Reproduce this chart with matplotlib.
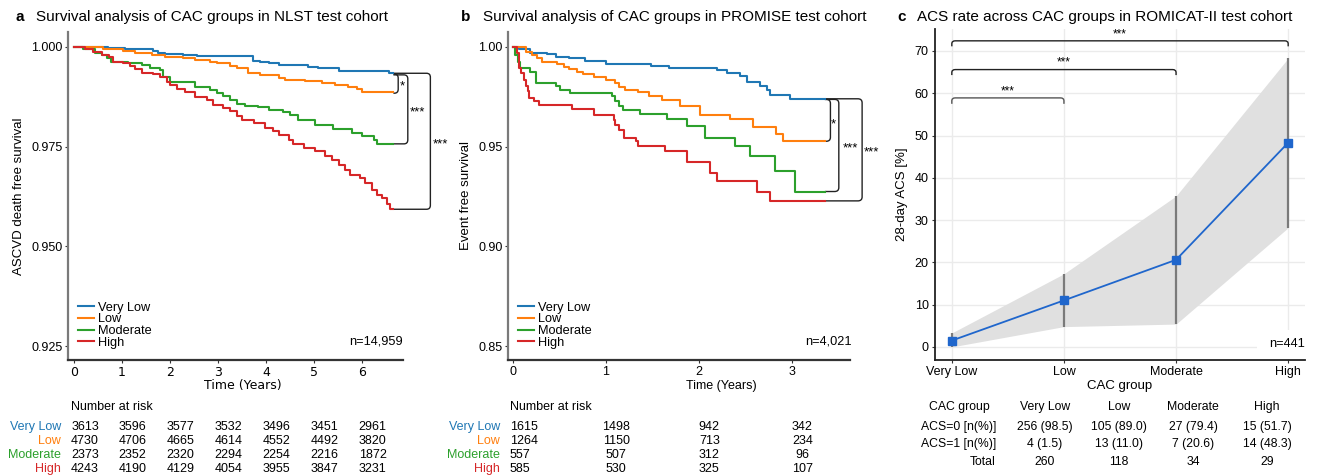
import numpy as np
import matplotlib
matplotlib.use('Agg')
import matplotlib.pyplot as plt
from matplotlib.path import Path
from matplotlib.patches import PathPatch, Rectangle
from matplotlib.transforms import blended_transform_factory

plt.rcParams['font.family'] = ['Liberation Sans', 'DejaVu Sans']

groups = ['Very Low', 'Low', 'Moderate', 'High']
colors = ['#1f77b4', '#ff7f0e', '#2ca02c', '#d62728']

# NLST: step times (years) and survival after each step
nlst_end = 6.65
nlst_t = {
    'Very Low': [0, 0.71, 1.06, 1.65, 1.75, 1.9, 2.27, 2.56, 3.73, 3.875, 4.05, 4.26,
                 4.88, 5.09, 5.51, 6.55],
    'Low': [0, 0.6, 1.02, 1.27, 1.62, 1.9, 2.27, 2.52, 2.83, 2.97, 3.25, 3.39, 3.63,
            3.875, 4.26, 4.40, 4.81, 5.16, 5.44, 5.71, 5.89, 5.99],
    'Moderate': [0, 0.19, 0.44, 0.58, 0.68, 0.78, 1.13, 1.41, 1.58, 1.79, 1.86, 2.0,
                 2.52, 2.83, 2.97, 3.11, 3.25, 3.39, 3.56, 3.84, 4.05, 4.36, 4.5, 4.67,
                 5.02, 5.40, 5.78, 5.99, 6.24, 6.31],
    'High': [0, 0.23, 0.40, 0.58, 0.72, 0.82, 1.03, 1.17, 1.27, 1.41, 1.65, 1.79, 1.93,
             2.0, 2.14, 2.31, 2.52, 2.76, 2.90, 3.11, 3.25, 3.39, 3.49, 3.74, 3.98,
             4.15, 4.26, 4.47, 4.57, 4.78, 5.02, 5.23, 5.37, 5.51, 5.65, 5.75, 5.96,
             6.06, 6.20, 6.31, 6.41, 6.51, 6.58],
}
nlst_s = {
    'Very Low': [1.0, 0.99975, 0.99942, 0.999, 0.99858, 0.99825, 0.998, 0.99775, 0.99658,
                 0.99633, 0.99592, 0.9955, 0.99508, 0.99467, 0.994, 0.99342],
    'Low': [1.0, 0.99942, 0.99908, 0.99858, 0.998, 0.99758, 0.99717, 0.99675, 0.99633,
            0.99592, 0.99525, 0.99467, 0.99342, 0.993, 0.99217, 0.99175, 0.9915, 0.99092,
            0.9905, 0.99008, 0.98942, 0.98867],
    'Moderate': [1.0, 0.99942, 0.99858, 0.998, 0.99717, 0.99633, 0.99592, 0.9955,
                 0.99483, 0.99425, 0.99258, 0.99133, 0.98992, 0.98925, 0.98842, 0.98758,
                 0.98658, 0.98575, 0.9853, 0.98492, 0.98425, 0.98358, 0.983, 0.98175,
                 0.9805, 0.97942, 0.97842, 0.97775, 0.97675, 0.97575],
    'High': [1.0, 0.9995, 0.99883, 0.998, 0.99742, 0.99633, 0.99592, 0.99525, 0.99442,
             0.99358, 0.99317, 0.99242, 0.99133, 0.9905, 0.98942, 0.98858, 0.98742,
             0.98675, 0.9855, 0.98467, 0.98383, 0.98258, 0.98175, 0.98092, 0.97967,
             0.97883, 0.978, 0.97675, 0.97575, 0.97467, 0.97383, 0.97275, 0.97175,
             0.9705, 0.96925, 0.96783, 0.96717, 0.96592, 0.96425, 0.963, 0.96217,
             0.9605, 0.95935],
}
nlst_risk_times = [0, 1, 2, 3, 4, 5, 6]
nlst_risk = {
    'Very Low': [3613, 3596, 3577, 3532, 3496, 3451, 2961],
    'Low': [4730, 4706, 4665, 4614, 4552, 4492, 3820],
    'Moderate': [2373, 2352, 2320, 2294, 2254, 2216, 1872],
    'High': [4243, 4190, 4129, 4054, 3955, 3847, 3231],
}

# PROMISE
prom_end = 3.35
prom_t = {
    'Very Low': [0, 0.07, 0.19, 0.37, 0.46, 0.60, 0.78, 1.0, 1.48, 1.68, 2.19, 2.30,
                 2.44, 2.51, 2.65, 2.725, 2.76, 2.975],
    'Low': [0, 0.14, 0.21, 0.26, 0.32, 0.48, 0.55, 0.60, 0.69, 0.75, 0.87, 1.0, 1.10,
            1.14, 1.21, 1.35, 1.46, 1.60, 1.80, 2.01, 2.33, 2.58, 2.83, 2.90],
    'Moderate': [0, 0.03, 0.06, 0.08, 0.19, 0.25, 0.46, 0.51, 0.62, 1.07, 1.10, 1.14,
                 1.18, 1.37, 1.66, 1.87, 2.06, 2.39, 2.55, 2.81, 3.03],
    'High': [0, 0.05, 0.07, 0.09, 0.12, 0.14, 0.16, 0.17, 0.23, 0.28, 0.64, 0.87, 1.09,
             1.10, 1.14, 1.19, 1.32, 1.35, 1.64, 1.87, 2.12, 2.19, 2.62, 2.76],
}
prom_s = {
    'Very Low': [1.0, 0.99883, 0.99717, 0.9965, 0.99517, 0.99433, 0.99317, 0.9915,
                 0.9905, 0.98933, 0.9883, 0.9869, 0.9852, 0.9824, 0.9802, 0.9782, 0.976,
                 0.9737],
    'Low': [1.0, 0.99767, 0.996, 0.99433, 0.99267, 0.9915, 0.99017, 0.98883, 0.98767,
            0.9865, 0.98517, 0.9835, 0.98183, 0.97967, 0.9785, 0.97717, 0.9755, 0.9735,
            0.9706, 0.9659, 0.9639, 0.9597, 0.9564, 0.9527],
    'Moderate': [1.0, 0.9958, 0.9925, 0.98933, 0.98733, 0.98217, 0.9805, 0.9785,
                 0.97683, 0.97517, 0.97267, 0.9705, 0.9685, 0.9665, 0.96383, 0.9606,
                 0.9544, 0.9502, 0.9455, 0.9379, 0.9275],
    'High': [1.0, 0.99683, 0.98933, 0.98683, 0.9835, 0.98017, 0.97767, 0.97433, 0.97267,
             0.971, 0.96883, 0.966, 0.9635, 0.961, 0.9585, 0.95433, 0.95267, 0.95017,
             0.94767, 0.9421, 0.9366, 0.9329, 0.9275, 0.9228],
}
prom_risk_times = [0, 1, 2, 3]
prom_risk = {
    'Very Low': [1615, 1498, 942, 342],
    'Low': [1264, 1150, 713, 234],
    'Moderate': [557, 507, 312, 96],
    'High': [585, 530, 325, 107],
}

# ROMICAT-II
acs_rate = [1.5, 11.0, 20.6, 48.3]
acs_lo = [0.0, 4.8, 5.4, 28.2]
acs_hi = [3.3, 17.3, 35.7, 68.3]
tab_rows = ['ACS=0 [n(%)]', 'ACS=1 [n(%)]', 'Total']
tab_vals = [['256 (98.5)', '105 (89.0)', '27 (79.4)', '15 (51.7)'],
            ['4 (1.5)', '13 (11.0)', '7 (20.6)', '14 (48.3)'],
            ['260', '118', '34', '29']]

W, H = 1317, 476
fig = plt.figure(figsize=(W / 100, H / 100), dpi=100)


def fx(px):
    return px / W


def fy(py):
    return 1 - py / H


def box(l, t, r, b):
    return [fx(l), fy(b), fx(r) - fx(l), fy(t) - fy(b)]


def rounded(ax, pts, rx, ry, **kw):
    verts = [pts[0]]
    codes = [Path.MOVETO]
    for i in range(1, len(pts) - 1):
        (xp, yp), (xc, yc), (xn, yn) = pts[i - 1], pts[i], pts[i + 1]
        a = (xc - np.sign(xc - xp) * rx, yc - np.sign(yc - yp) * ry)
        b = (xc + np.sign(xn - xc) * rx, yc + np.sign(yn - yc) * ry)
        verts += [a, (xc, yc), b]
        codes += [Path.LINETO, Path.CURVE3, Path.CURVE3]
    verts.append(pts[-1])
    codes.append(Path.LINETO)
    ax.add_patch(PathPatch(Path(verts, codes), fill=False, clip_on=False, **kw))


def km_panel(ax, t, s, end, xlim, ylim, yticks, yfmt):
    for g, c in zip(groups, colors):
        ax.step(t[g] + [end], s[g] + [s[g][-1]], where='post', color=c, lw=1.5,
                label=g)
    ax.set_xlim(*xlim)
    ax.set_ylim(*ylim)
    ax.set_yticks(yticks)
    ax.set_yticklabels([yfmt % v for v in yticks])
    for sp in ['top', 'right']:
        ax.spines[sp].set_visible(False)
    ax.spines['left'].set_color('#7a7a7a')
    ax.spines['bottom'].set_color('#333333')
    ax.spines['left'].set_linewidth(1.6)
    ax.spines['bottom'].set_linewidth(1.6)
    ax.tick_params(labelsize=9, length=2.5, pad=1.5, color='#333333')
    ax.legend(loc='lower left', bbox_to_anchor=(0.01, 0.015), frameon=False,
              fontsize=9.2, handlelength=1.3, handletextpad=0.3, labelspacing=-0.03,
              borderpad=0)


def risk_table(ax, times, risk, off0, off, lab_px, head_px):
    tr = blended_transform_factory(ax.transData, fig.transFigure)
    fig.text(fx(head_px), fy(407), 'Number at risk', fontsize=9, va='center')
    for k, (g, c) in enumerate(zip(groups, colors)):
        y = fy(427 + 14 * k)
        fig.text(fx(lab_px), y, g, color=c, fontsize=9, ha='right', va='center')
        for j, (tt, v) in enumerate(zip(times, risk[g])):
            if j == 0:
                ax.text(tt + off0, y, str(v), transform=tr, fontsize=9, ha='left',
                        va='center')
            else:
                ax.text(tt + off, y, str(v), transform=tr, fontsize=9, ha='center',
                        va='center')


# ---- panel a
axa = fig.add_axes(box(68, 32, 403, 360))
km_panel(axa, nlst_t, nlst_s, nlst_end, (-0.125, 6.85), (0.9215, 1.00375),
         [0.925, 0.950, 0.975, 1.000], '%.3f')
axa.set_xticks([0, 1, 2, 3, 4, 5, 6])
axa.set_xticklabels([str(v) for v in [0, 1, 2, 3, 4, 5, 6]], family='DejaVu Sans')
axa.set_ylabel('ASCVD death free survival', fontsize=9.5)
axa.yaxis.set_label_coords(-0.128, 0.5)
fig.text(fx(243), fy(386), 'Time (Years)', family='DejaVu Sans', fontsize=9,
         ha='center', va='center')
axa.text(1.0, 0.055, 'n=14,959', transform=axa.transAxes, ha='right', va='center',
         fontsize=9.2)
rxa, rya = 0.08, 0.001
e_a = nlst_end
rounded(axa, [(e_a, 0.9932), (6.75, 0.9932), (6.75, 0.9884), (e_a, 0.9884)], rxa, rya,
        lw=1, ec='#222222')
rounded(axa, [(e_a, 0.9930), (6.95, 0.9930), (6.95, 0.9757), (e_a, 0.9757)], rxa, rya,
        lw=1, ec='#222222')
rounded(axa, [(e_a, 0.9934), (7.42, 0.9934), (7.42, 0.9593), (e_a, 0.9593)], rxa, rya,
        lw=1, ec='#222222')
for xs, ys, st in [(6.84, 0.9902, '*'), (7.16, 0.9835, '***'), (7.62, 0.9755, '***')]:
    axa.text(xs, ys, st, ha='center', va='center', fontsize=9.5, clip_on=False)
risk_table(axa, nlst_risk_times, nlst_risk, -0.06, 0.22, 61, 71)
fig.text(fx(15), fy(17), 'a', fontsize=11, fontweight='bold', va='center')
fig.text(fx(36), fy(17), 'Survival analysis of CAC groups in NLST test cohort',
         fontsize=11, va='center')

# ---- panel b
axb = fig.add_axes(box(508, 32, 850, 360))
km_panel(axb, prom_t, prom_s, prom_end, (-0.05, 3.62), (0.843, 1.0075),
         [0.85, 0.90, 0.95, 1.00], '%.2f')
axb.set_xticks([0, 1, 2, 3])
axb.set_ylabel('Event free survival', fontsize=9.5)
axb.yaxis.set_label_coords(-0.106, 0.5)
fig.text(fx(721), fy(386), 'Time (Years)', fontsize=9, ha='center', va='center')
axb.text(1.005, 0.055, 'n=4,021', transform=axb.transAxes, ha='right', va='center',
         fontsize=9.2)
rxb, ryb = 0.045, 0.002
e_b = prom_end
rounded(axb, [(e_b, 0.9737), (3.41, 0.9737), (3.41, 0.9527), (e_b, 0.9527)], rxb, ryb,
        lw=1, ec='#222222')
rounded(axb, [(e_b, 0.9737), (3.50, 0.9737), (3.50, 0.9275), (e_b, 0.9275)], rxb, ryb,
        lw=1, ec='#222222')
rounded(axb, [(e_b, 0.9740), (3.75, 0.9740), (3.75, 0.9228), (e_b, 0.9228)], rxb, ryb,
        lw=1, ec='#222222')
for xs, ys, st in [(3.445, 0.9612, '*'), (3.62, 0.9492, '***'), (3.845, 0.947, '***')]:
    axb.text(xs, ys, st, ha='center', va='center', fontsize=9.5, clip_on=False)
risk_table(axb, prom_risk_times, prom_risk, -0.03, 0.11, 500, 510)
fig.text(fx(461), fy(17), 'b', fontsize=11, fontweight='bold', va='center')
fig.text(fx(483), fy(17), 'Survival analysis of CAC groups in PROMISE test cohort',
         fontsize=11, va='center')

# ---- panel c
axc = fig.add_axes(box(935, 29, 1305, 360))
xc = np.arange(len(groups))
axc.fill_between(xc, acs_lo, acs_hi, color='#e0e0e0', lw=0, zorder=1)
axc.vlines(xc, acs_lo, acs_hi, color='#7a7a7a', lw=1.6, zorder=2)
axc.plot(xc, acs_rate, color='#1f66cc', lw=1.3, marker='s', ms=6, zorder=3)
axc.set_xlim(-0.15, 3.15)
axc.set_ylim(-3.1, 75.2)
axc.set_yticks(range(0, 71, 10))
axc.set_xticks(xc)
axc.set_xticklabels(groups)
axc.grid(True, color='#ebebeb', lw=1)
axc.set_axisbelow(True)
for sp in ['top', 'right']:
    axc.spines[sp].set_visible(False)
axc.spines['left'].set_color('#222222')
axc.spines['bottom'].set_color('#222222')
axc.spines['left'].set_linewidth(1.3)
axc.spines['bottom'].set_linewidth(1.3)
axc.tick_params(labelsize=9, length=2.5, pad=2, color='#333333')
axc.set_ylabel('28-day ACS [%]', fontsize=9.5)
axc.yaxis.set_label_coords(-0.072, 0.5)
fig.text(fx(1120), fy(386), 'CAC group', fontsize=9.5, ha='center', va='center')
# white patch behind the n label hides the grid there, spine stays on top
axc.add_patch(Rectangle((0.87, 0.004), 0.13, 0.088, transform=axc.transAxes,
                        fc='white', ec='none', zorder=1.5, clip_on=False))
axc.text(1.0, 0.048, 'n=441', transform=axc.transAxes, ha='right', va='center',
         fontsize=9.2, zorder=3)
for x1, ytop, ydrop, col in [(1, 58.9, 57.5, '#555555'), (2, 65.6, 64.3, '#222222'),
                              (3, 72.4, 71.1, '#222222')]:
    rounded(axc, [(0, ydrop), (0, ytop), (x1, ytop), (x1, ydrop)], 0.03, 0.7, lw=1,
            ec=col)
    axc.text(x1 / 2, ytop + 0.2, '***', ha='center', va='bottom', fontsize=8.5)
fig.text(fx(897), fy(17), 'c', fontsize=11, fontweight='bold', va='center')
fig.text(fx(917), fy(17), 'ACS rate across CAC groups in ROMICAT-II test cohort',
         fontsize=11, va='center')

# table under panel c
fig.text(fx(959), fy(407), 'CAC group', fontsize=8.8, ha='center', va='center')
col_px = [1045, 1119, 1193, 1267]
for g, cx in zip(groups, col_px):
    fig.text(fx(cx), fy(407), g, fontsize=8.8, ha='center', va='center')
for i, (rname, vals) in enumerate(zip(tab_rows, tab_vals)):
    y = fy(427 + 17.5 * i)
    fig.text(fx(996), y, rname, fontsize=8.8, ha='right', va='center')
    for v, cx in zip(vals, col_px):
        fig.text(fx(cx), y, v, fontsize=8.8, ha='center', va='center')

fig.savefig('out.png', dpi=100)
